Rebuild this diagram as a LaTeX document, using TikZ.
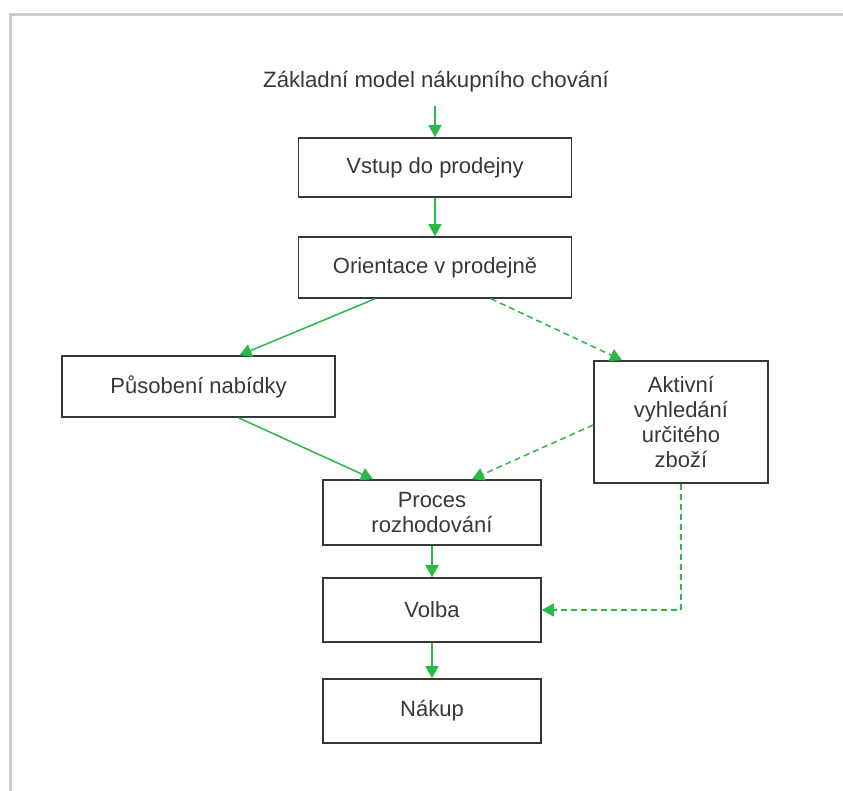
\documentclass[tikz,border=0pt]{standalone}
\usepackage{fontspec}
\setmainfont{Liberation Sans}
\usetikzlibrary{arrows.meta,positioning}
\definecolor{arrowgreen}{RGB}{40,185,70}
\definecolor{textgray}{RGB}{55,55,55}
\tikzset{
  box/.style={draw=textgray,line width=0.8pt,text=textgray,align=center,
    font=\fontsize{11}{12.5}\selectfont,inner sep=0pt},
  flow/.style={draw=arrowgreen,line width=0.75pt,-{Triangle[width=6.5pt,length=6pt]}},
  maybe/.style={flow,dash pattern=on 3pt off 2pt}
}

\begin{document}
\begin{tikzpicture}[x=0.5pt,y=-0.5pt]
\useasboundingbox (0,0) rectangle (843,791);
\draw[gray!40,line width=1.5pt] (10,791) -- (10,15) -- (843,15);
\node[text=textgray,font=\fontsize{11.1}{13}\selectfont] (title) at (436,82) {Základní model nákupního chování};
\node[box,minimum width=136.5pt,minimum height=29.5pt] (vstup) at (435,167.5) {Vstup do prodejny};
\node[box,minimum width=136.5pt,minimum height=30.5pt] (orient) at (435,267.5) {Orientace v prodejně};
\node[box,minimum width=136.5pt,minimum height=30.5pt] (pusob) at (198.5,386.5) {Působení nabídky};
\node[box,minimum width=87pt,minimum height=61pt] (aktiv) at (681,422) {Aktivní\\vyhledání\\určitého\\zboží};
\node[box,minimum width=109pt,minimum height=32.5pt] (proces) at (432,512.5) {Proces\\rozhodování};
\node[box,minimum width=109pt,minimum height=32pt] (volba) at (432,610) {Volba};
\node[box,minimum width=109pt,minimum height=32pt] (nakup) at (432,711) {Nákup};
% main path
\draw[flow] ([yshift=-3pt]title.south -| vstup.north) -- (vstup.north);
\draw[flow] (vstup) -- (orient);
\draw[flow] ([xshift=-30pt]orient.south) -- ([xshift=20.5pt]pusob.north);
\draw[flow] ([xshift=20pt]pusob.south) -- ([xshift=-29.5pt]proces.north);
\draw[flow] (proces) -- (volba);
\draw[flow] (volba) -- (nakup);
% dashed path
\draw[maybe] ([xshift=28pt]orient.south) -- ([xshift=-29.5pt]aktiv.north);
\draw[maybe] ([yshift=-1.5pt]aktiv.west) -- ([xshift=20pt]proces.north);
\draw[maybe] (aktiv.south) |- (volba.east);
\end{tikzpicture}
\end{document}
